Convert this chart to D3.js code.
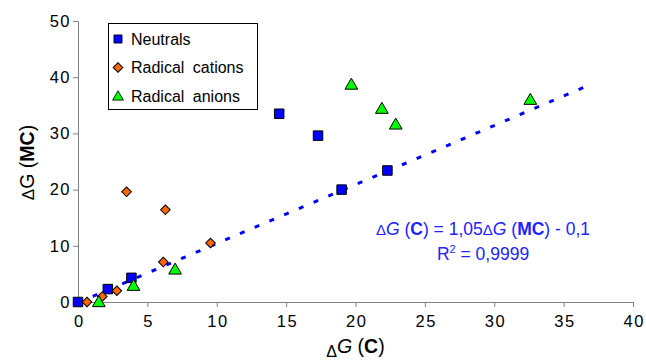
<!DOCTYPE html>
<html>
<head>
<meta charset="utf-8">
<script src="https://cdn.jsdelivr.net/npm/d3@7"></script>
<style>
  body { margin: 0; background: #fff; }
  svg text { font-family: "Liberation Sans", Arial, sans-serif; }
</style>
</head>
<body>
<div id="chart"></div>
<script>
// values: [x, y] = [ΔG(C), ΔG(MC)]
const neutrals = [[0, 0], [2.15, 2.3], [3.85, 4.3], [14.5, 33.5], [17.3, 29.6], [19.0, 20.0], [22.3, 23.4]];
const radicalCations = [[0.65, 0], [1.75, 1.0], [2.8, 2.0], [3.5, 19.6], [6.15, 7.1], [6.3, 16.4], [9.55, 10.5]];
const radicalAnions = [[1.5, 0], [4.0, 2.9], [7.0, 5.8], [19.7, 38.7], [21.9, 34.4], [22.9, 31.6], [32.6, 36.0]];
const fitRange = [0, 36.7];
const fitSlope = 1.05, fitIntercept = -0.1;
const xTicks = [0, 5, 10, 15, 20, 25, 30, 35, 40];
const yTicks = [0, 10, 20, 30, 40, 50];
const legendLabels = ["Neutrals", "Radical cations", "Radical anions"];

const W = 646, H = 361;
const margin = { left: 78, right: 13, top: 21, bottom: 59 };

const svg = d3.select("#chart").append("svg").attr("width", W).attr("height", H);

const x = d3.scaleLinear().domain([0, 40]).range([margin.left, W - margin.right]);
const y = d3.scaleLinear().domain([0, 50]).range([H - margin.bottom, margin.top]);

// axes
const xAxis = svg.append("g").attr("transform", `translate(0,${y(0)})`)
  .call(d3.axisBottom(x).tickValues(xTicks).tickSize(5).tickPadding(8).tickSizeOuter(0));
const yAxis = svg.append("g").attr("transform", `translate(${x(0)},0)`)
  .call(d3.axisLeft(y).tickValues(yTicks).tickSize(5).tickPadding(2).tickSizeOuter(0));
[xAxis, yAxis].forEach(a => {
  a.selectAll("path, line").attr("stroke", "#808080");
  a.selectAll("text").attr("fill", "#000").style("font-size", "16.5px")
    .style("letter-spacing", "1.5px")
    .style("font-family", "'Liberation Sans', Arial, sans-serif");
});
// letter-spacing adds trailing space; recentre x labels
xAxis.selectAll("text").attr("dx", 0.75);

// fit line
const line = d3.line().x(d => x(d)).y(d => y(fitSlope * d + fitIntercept));
svg.append("path").datum(fitRange)
  .attr("d", line)
  .attr("fill", "none").attr("stroke", "#0000ff")
  .attr("stroke-width", 3).attr("stroke-dasharray", "5,11");

// markers
const sq = d3.symbol().type(d3.symbolSquare).size(90);
const dia = d3.symbol().type(d3.symbolSquare).size(46);
const tri = d3.symbol().type(d3.symbolTriangle).size(70);

function drawSeries(data, shape, fill, rotate, dy) {
  svg.append("g").selectAll("path").data(data).join("path")
    .attr("d", shape)
    .attr("transform", d => `translate(${x(d[0])},${y(d[1]) + dy}) rotate(${rotate})`)
    .attr("fill", fill).attr("stroke", "#000").attr("stroke-width", 1);
}
drawSeries(neutrals, sq, "#0000ff", 0, 0);
drawSeries(radicalCations, dia, "#ff6600", 45, 0);
drawSeries(radicalAnions, tri, "#00ff00", 0, 1);

// legend
const lg = svg.append("g");
lg.append("rect").attr("x", 108.5).attr("y", 23.5).attr("width", 149).attr("height", 86)
  .attr("fill", "#fff").attr("stroke", "#000");
const legendShapes = [[sq, "#0000ff", 0, 0.85], [dia, "#ff6600", 45, 1], [tri, "#00ff00", 0, 0.85]];
legendLabels.forEach((t, i) => {
  const cy = 39 + i * 28.5;
  const [shape, fill, rot, sc] = legendShapes[i];
  lg.append("path").attr("d", shape)
    .attr("transform", `translate(118,${cy + (i === 2 ? 1 : 0)}) rotate(${rot}) scale(${sc})`)
    .attr("fill", fill).attr("stroke", "#000");
  lg.append("text").attr("x", 131).attr("y", cy + 5.5)
    .style("font-size", "16px").style("word-spacing", "4px").text(t);
});

// axis titles
const xt = svg.append("text").attr("x", x(20)).attr("y", 357).attr("text-anchor", "middle")
  .style("font-size", "19.5px");
xt.append("tspan").text("Δ").style("font-size", "16px");
xt.append("tspan").text("G").style("font-style", "italic").attr("dy", -4);
xt.append("tspan").text(" (").attr("dy", 0);
xt.append("tspan").text("C").style("font-weight", "bold");
xt.append("tspan").text(")");

const yt = svg.append("text")
  .attr("transform", `translate(34,${y(25) + 1}) rotate(-90)`)
  .attr("text-anchor", "middle").style("font-size", "19.5px");
yt.append("tspan").text("Δ").style("font-size", "17px");
yt.append("tspan").text("G");
yt.append("tspan").text(" (");
yt.append("tspan").text("MC").style("font-weight", "bold");
yt.append("tspan").text(")");

// equation
const eq = svg.append("text").attr("x", 483).attr("y", 235).attr("text-anchor", "middle")
  .attr("fill", "#2222ff").style("font-size", "17.5px");
eq.append("tspan").text("Δ").style("font-size", "15px");
eq.append("tspan").text("G").style("font-style", "italic");
eq.append("tspan").text(" (");
eq.append("tspan").text("C").style("font-weight", "bold");
eq.append("tspan").text(") =  1,05");
eq.append("tspan").text("Δ").style("font-size", "15px");
eq.append("tspan").text("G").style("font-style", "italic");
eq.append("tspan").text(" (");
eq.append("tspan").text("MC").style("font-weight", "bold");
eq.append("tspan").text(") - 0,1");

const r2 = svg.append("text").attr("x", 483).attr("y", 260).attr("text-anchor", "middle")
  .attr("fill", "#2222ff").style("font-size", "17.5px");
r2.append("tspan").text("R");
r2.append("tspan").text("2").style("font-size", "11px").attr("dy", -7);
r2.append("tspan").text(" = 0,9999").attr("dy", 7);
</script>
</body>
</html>
